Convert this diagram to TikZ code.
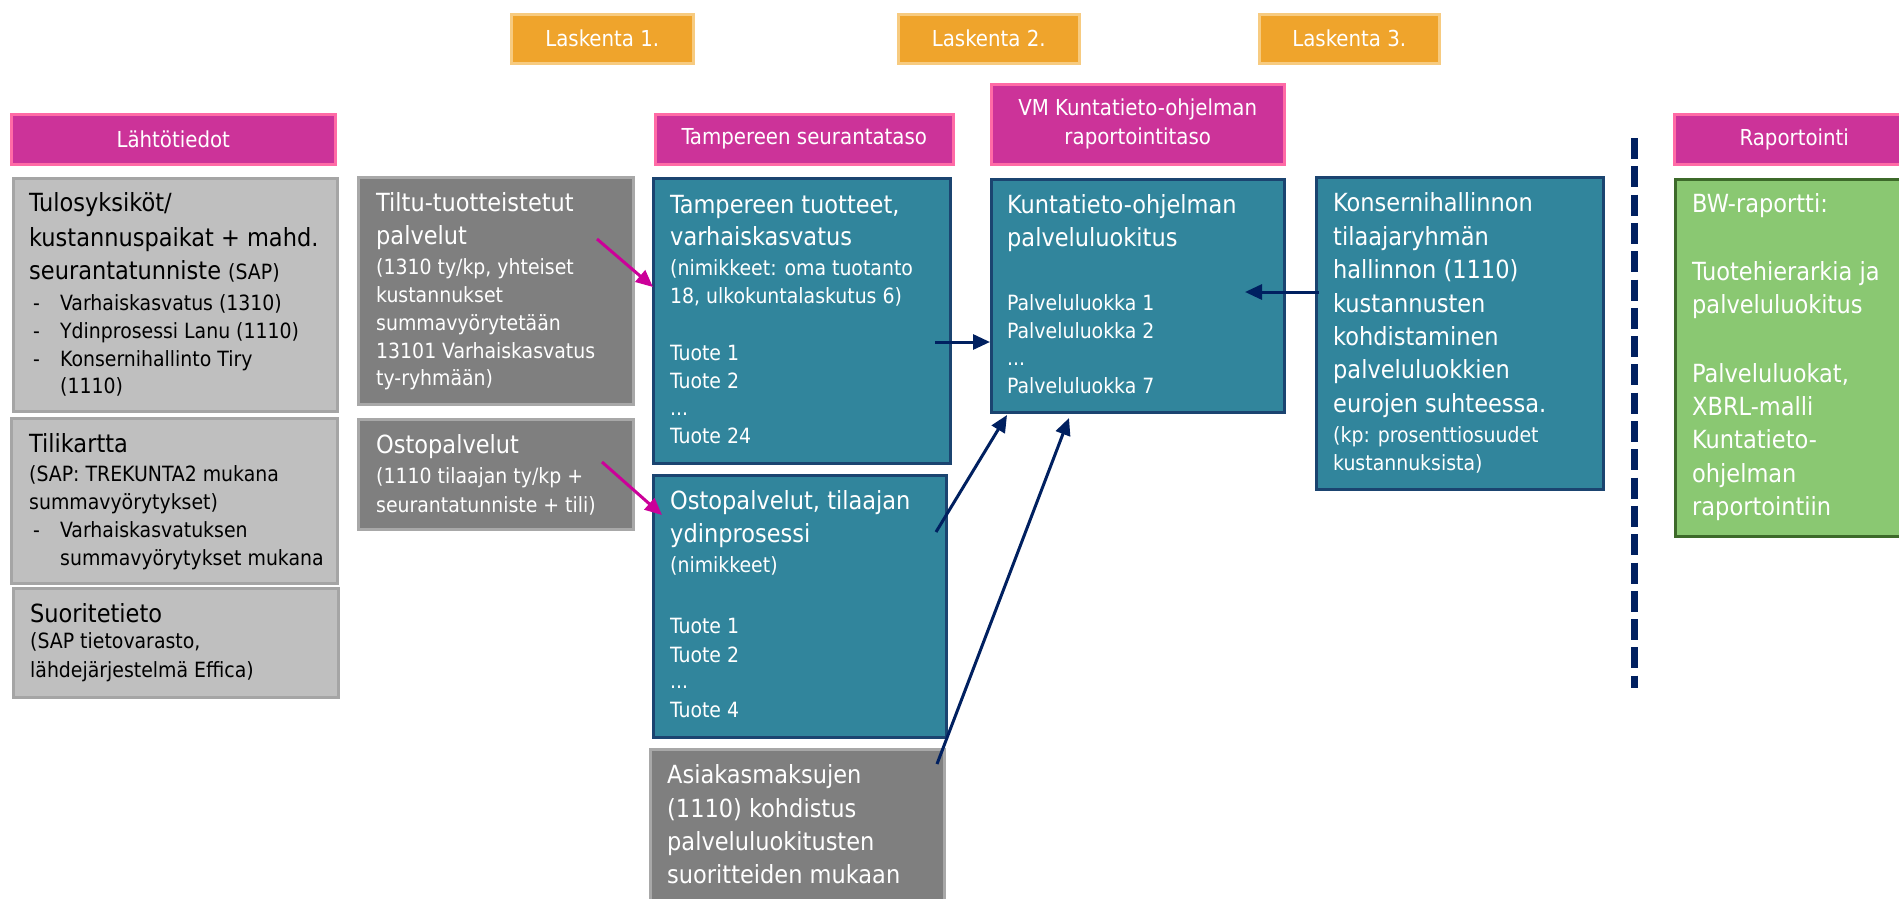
\documentclass[tikz,border=0pt]{standalone}
\usepackage{fontspec}
\setmainfont{DejaVu Sans Condensed}
\usetikzlibrary{arrows.meta}
\definecolor{orng}{HTML}{EFA42C}
\definecolor{orngb}{HTML}{F7CB80}
\definecolor{mag}{HTML}{CC3399}
\definecolor{magb}{HTML}{FF6BA6}
\definecolor{teal}{HTML}{31859C}
\definecolor{tealb}{HTML}{1B4470}
\definecolor{lgrey}{HTML}{BFBFBF}
\definecolor{lgreyb}{HTML}{A5A5A5}
\definecolor{dgrey}{HTML}{7F7F7F}
\definecolor{dgreyb}{HTML}{A8A8A8}
\definecolor{grn}{HTML}{8AC872}
\definecolor{grnb}{HTML}{3D6A2A}
\definecolor{navy}{HTML}{002060}
\definecolor{magarr}{HTML}{CC0099}
\newcommand\medsz{\fontsize{21}{25}\selectfont}
\newcommand\tl[5]{\node[#4, anchor=base west, inner sep=0pt] (#1) at (#2,#3) {#5};}
\begin{document}
\begin{tikzpicture}[x=1pt,y=-1pt,
  box/.style={draw, line width=2.5pt, inner sep=0pt, anchor=north west},
  hdr/.style={box, text=white, font=\fontsize{22}{29}\selectfont, align=center},
  orangebox/.style={hdr, fill=orng, draw=orngb},
  magbox/.style={hdr, fill=mag, draw=magb},
  lgbox/.style={box, fill=lgrey, draw=lgreyb},
  dgbox/.style={box, fill=dgrey, draw=dgreyb},
  tealbox/.style={box, fill=teal, draw=tealb},
  greenbox/.style={box, fill=grn, draw=grnb},
  big/.style={font=\fontsize{25}{30}\selectfont},
  med/.style={font=\medsz},
  wt/.style={text=white},
  bk/.style={text=black},
  navyarrow/.style={draw=navy, line width=3pt, -{Triangle[length=17pt,width=15pt]}},
  magarrow/.style={draw=magarr, line width=3pt, -{Triangle[length=17pt,width=15pt]}}
]
\useasboundingbox (0,0) rectangle (1899,898);
\fill[white] (0,0) rectangle (1899,898);

% header boxes
\node[orangebox, minimum width=182pt, minimum height=49pt] (lask1) at (510,13) {Laskenta 1.};
\node[orangebox, minimum width=181pt, minimum height=49pt] (lask2) at (897,13) {Laskenta 2.};
\node[orangebox, minimum width=180pt, minimum height=49pt] (lask3) at (1258,13) {Laskenta 3.};
\node[magbox, minimum width=324pt, minimum height=50pt] (lahto) at (10,113) {Lähtötiedot};
\node[magbox, minimum width=298pt, minimum height=50pt] (tamph) at (654,113) {Tampereen seurantataso};
\node[magbox, minimum width=293pt, minimum height=80pt] (vmh) at (990,83) {VM Kuntatieto-ohjelman\\raportointitaso};
\node[magbox, minimum width=240pt, minimum height=50pt] (raph) at (1673,113) {Raportointi};

% content boxes
\node[lgbox, minimum width=324pt, minimum height=233pt] (tulos) at (12,177) {};
\node[lgbox, minimum width=326pt, minimum height=165pt] (tili) at (10,417) {};
\node[lgbox, minimum width=325pt, minimum height=109pt] (suor) at (12,587) {};
\node[dgbox, minimum width=275pt, minimum height=227pt] (tiltu) at (357,176) {};
\node[dgbox, minimum width=275pt, minimum height=110pt] (osto) at (357,418) {};
\node[tealbox, minimum width=297pt, minimum height=285pt] (tamp) at (652,177) {};
\node[tealbox, minimum width=293pt, minimum height=262pt] (ostot) at (652,474) {};
\node[dgbox, minimum width=294pt, minimum height=160pt] (asiak) at (649,748) {};
\node[tealbox, minimum width=293pt, minimum height=233pt] (kunta) at (990,178) {};
\node[tealbox, minimum width=287pt, minimum height=312pt] (konsr) at (1315,176) {};
\node[greenbox, minimum width=240pt, minimum height=357pt] (green) at (1674,178) {};

% texts: Tulosyksiköt
\tl{tu1}{29}{211}{big,bk}{Tulosyksiköt/}
\tl{tu2}{29}{246}{big,bk}{kustannuspaikat + mahd.}
\tl{tu3}{29}{279}{big,bk}{seurantatunniste {\medsz(SAP)}}
\tl{tu4d}{33}{310}{med,bk}{-}
\tl{tu4}{60}{310}{med,bk}{Varhaiskasvatus (1310)}
\tl{tu5d}{33}{338}{med,bk}{-}
\tl{tu5}{60}{338}{med,bk}{Ydinprosessi Lanu (1110)}
\tl{tu6d}{33}{366}{med,bk}{-}
\tl{tu6}{60}{366}{med,bk}{Konsernihallinto Tiry}
\tl{tu7}{60}{393}{med,bk}{(1110)}
% Tilikartta
\tl{ti1}{29}{452}{big,bk}{Tilikartta}
\tl{ti2}{29}{481}{med,bk}{(SAP: TREKUNTA2 mukana}
\tl{ti3}{29}{509}{med,bk}{summavyörytykset)}
\tl{ti4d}{33}{537}{med,bk}{-}
\tl{ti4}{60}{537}{med,bk}{Varhaiskasvatuksen}
\tl{ti5}{60}{565}{med,bk}{summavyörytykset mukana}
% Suoritetieto
\tl{su1}{30}{622}{big,bk}{Suoritetieto}
\tl{su2}{30}{648}{med,bk}{(SAP tietovarasto,}
\tl{su3}{30}{677}{med,bk}{lähdejärjestelmä Effica)}
% Tiltu
\tl{tt1}{376}{211}{big,wt}{Tiltu-tuotteistetut}
\tl{tt2}{376}{244}{big,wt}{palvelut}
\tl{tt3}{376}{274}{med,wt}{(1310 ty/kp, yhteiset}
\tl{tt4}{376}{302}{med,wt}{kustannukset}
\tl{tt5}{376}{330}{med,wt}{summavyörytetään}
\tl{tt6}{376}{358}{med,wt}{13101 Varhaiskasvatus}
\tl{tt7}{376}{385}{med,wt}{ty-ryhmään)}
% Ostopalvelut grey
\tl{op1}{376}{453}{big,wt}{Ostopalvelut}
\tl{op2}{376}{483}{med,wt}{(1110 tilaajan ty/kp +}
\tl{op3}{376}{512}{med,wt}{seurantatunniste + tili)}
% Tampereen tuotteet
\tl{ta1}{670}{213}{big,wt}{Tampereen tuotteet,}
\tl{ta2}{670}{245}{big,wt}{varhaiskasvatus}
\tl{ta3}{670}{275}{med,wt}{(nimikkeet: oma tuotanto}
\tl{ta4}{670}{303}{med,wt}{18, ulkokuntalaskutus 6)}
\tl{ta5}{670}{360}{med,wt}{Tuote 1}
\tl{ta6}{670}{388}{med,wt}{Tuote 2}
\tl{ta7}{670}{415}{med,wt}{...}
\tl{ta8}{670}{443}{med,wt}{Tuote 24}
% Ostopalvelut teal
\tl{ot1}{670}{509}{big,wt}{Ostopalvelut, tilaajan}
\tl{ot2}{670}{542}{big,wt}{ydinprosessi}
\tl{ot3}{670}{572}{med,wt}{(nimikkeet)}
\tl{ot4}{670}{633}{med,wt}{Tuote 1}
\tl{ot5}{670}{662}{med,wt}{Tuote 2}
\tl{ot6}{670}{688}{med,wt}{...}
\tl{ot7}{670}{717}{med,wt}{Tuote 4}
% Asiakasmaksujen
\tl{as1}{667}{783}{big,wt}{Asiakasmaksujen}
\tl{as2}{667}{817}{big,wt}{(1110) kohdistus}
\tl{as3}{667}{850}{big,wt}{palveluluokitusten}
\tl{as4}{667}{883}{big,wt}{suoritteiden mukaan}
% Kuntatieto
\tl{ku1}{1007}{213}{big,wt}{Kuntatieto-ohjelman}
\tl{ku2}{1007}{246}{big,wt}{palveluluokitus}
\tl{ku3}{1007}{310}{med,wt}{Palveluluokka 1}
\tl{ku4}{1007}{338}{med,wt}{Palveluluokka 2}
\tl{ku5}{1007}{365}{med,wt}{...}
\tl{ku6}{1007}{393}{med,wt}{Palveluluokka 7}
% Konserni
\tl{ko1}{1333}{211}{big,wt}{Konsernihallinnon}
\tl{ko2}{1333}{245}{big,wt}{tilaajaryhmän}
\tl{ko3}{1333}{278}{big,wt}{hallinnon (1110)}
\tl{ko4}{1333}{312}{big,wt}{kustannusten}
\tl{ko5}{1333}{345}{big,wt}{kohdistaminen}
\tl{ko6}{1333}{378}{big,wt}{palveluluokkien}
\tl{ko7}{1333}{412}{big,wt}{eurojen suhteessa.}
\tl{ko8}{1333}{442}{med,wt}{(kp: prosenttiosuudet}
\tl{ko9}{1333}{470}{med,wt}{kustannuksista)}
% Green
\tl{gr1}{1692}{212}{big,wt}{BW-raportti:}
\tl{gr2}{1692}{280}{big,wt}{Tuotehierarkia ja}
\tl{gr3}{1692}{313}{big,wt}{palveluluokitus}
\tl{gr4}{1692}{382}{big,wt}{Palveluluokat,}
\tl{gr5}{1692}{415}{big,wt}{XBRL-malli}
\tl{gr6}{1692}{448}{big,wt}{Kuntatieto-}
\tl{gr7}{1692}{482}{big,wt}{ohjelman}
\tl{gr8}{1692}{515}{big,wt}{raportointiin}

% dashed separator
\coordinate (dtop) at (1634,138);
\coordinate (dbot) at (1634,688);
\draw[navy, line width=7pt, dash pattern=on 21pt off 7.3pt] (dtop) -- (dbot);

% arrows
\coordinate (a1s) at (597,239);
\coordinate (a1e) at (653,287);
\coordinate (a2s) at (602,462);
\coordinate (a2e) at (662,515);
\coordinate (a3s) at (935,342);
\coordinate (a3e) at (990,342);
\coordinate (a4s) at (936,532);
\coordinate (a4e) at (1007,415);
\coordinate (a5s) at (937,764);
\coordinate (a5e) at (1069,418);
\coordinate (a6s) at (1319,292);
\coordinate (a6e) at (1245,292);
\draw[magarrow] (a1s) -- (a1e);
\draw[magarrow] (a2s) -- (a2e);
\draw[navyarrow] (a3s) -- (a3e);
\draw[navyarrow] (a4s) -- (a4e);
\draw[navyarrow] (a5s) -- (a5e);
\draw[navyarrow] (a6s) -- (a6e);
\end{tikzpicture}
\end{document}
